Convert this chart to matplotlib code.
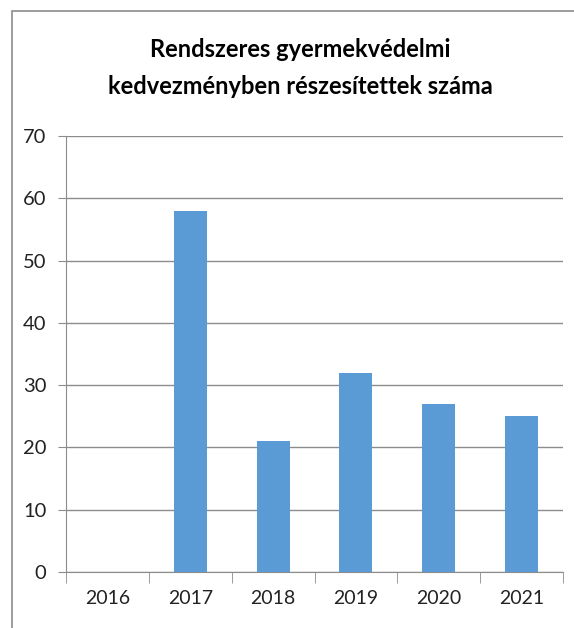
import matplotlib
matplotlib.use('Agg')
import matplotlib.pyplot as plt
from matplotlib.patches import Rectangle

years = ['2016', '2017', '2018', '2019', '2020', '2021']
counts = [0, 58, 21, 32, 27, 25]
title = 'Rendszeres gyermekvédelmi\nkedvezményben részesítettek száma'

plt.rcParams['font.family'] = ['Lato', 'DejaVu Sans']

W, H = 574, 628
fig = plt.figure(figsize=(W / 100, H / 100), dpi=100)
ax = fig.add_axes([66 / W, (H - 572) / H, (563 - 66) / W, (572 - 136) / H])

# outer chart border (cropped at right and bottom in the reference)
fig.patches.append(Rectangle((12 / W, -0.1), 1.2, 1.1 - 11 / H, transform=fig.transFigure,
                             fill=False, edgecolor='#8c8c8c', lw=1.2))

x = list(range(len(years)))
ax.bar(x, counts, width=0.4, color='#5B9BD5', zorder=3)

ax.set_xlim(-0.5, len(years) - 0.5)
ax.set_ylim(0, 70)
ax.set_yticks(range(0, 71, 10))
ax.yaxis.grid(True, color='#8c8c8c', lw=1.0)
ax.set_axisbelow(True)

ax.set_xticks(x)
ax.set_xticklabels(years, fontsize=14, color='#222222')
ax.set_xticks([i - 0.5 for i in range(len(years) + 1)], minor=True)
ax.tick_params(axis='x', which='major', length=0, pad=13)
ax.tick_params(axis='x', which='minor', length=8, color='#8c8c8c', direction='out')
ax.tick_params(axis='y', length=6, color='#8c8c8c', labelsize=14.5, labelcolor='#222222', pad=8)

for s in ['top', 'right']:
    ax.spines[s].set_visible(False)
for s in ['left', 'bottom']:
    ax.spines[s].set_color('#8c8c8c')

fig.text(300 / W, 1 - 68 / H, title, ha='center', va='center', fontsize=17,
         fontweight='bold', linespacing=1.75)

fig.savefig('out.png', dpi=100)
